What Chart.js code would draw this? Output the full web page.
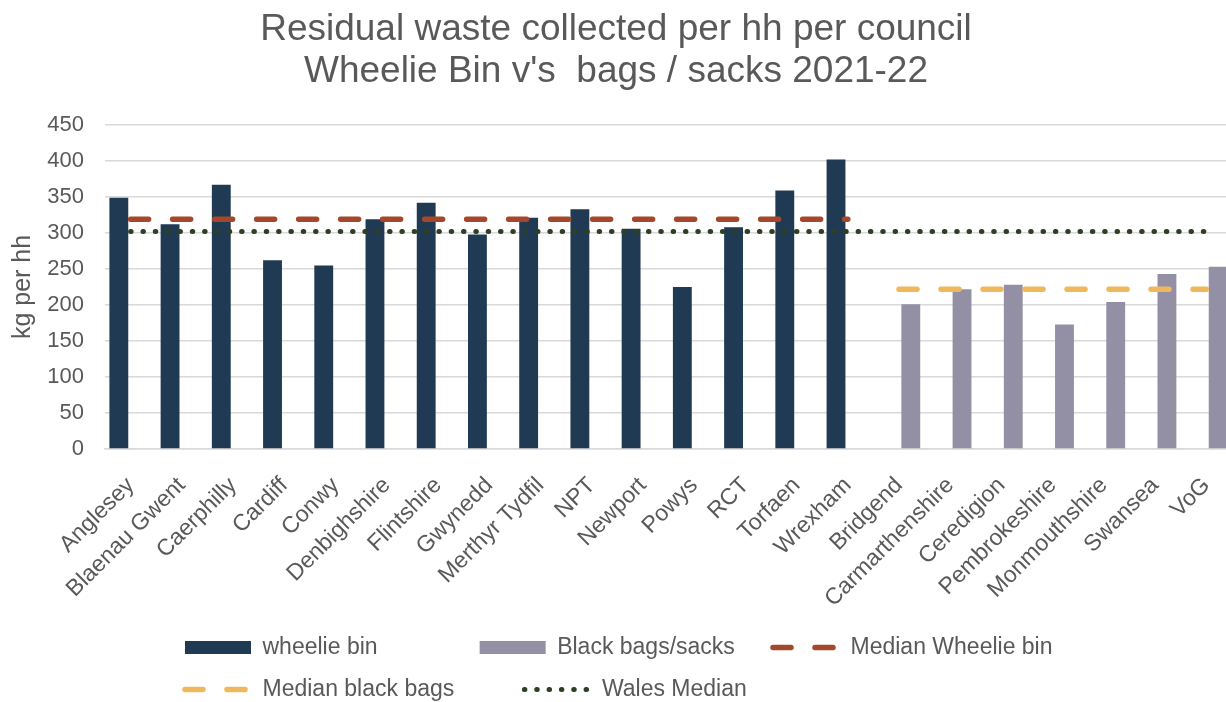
<!DOCTYPE html>
<html>
<head>
<meta charset="utf-8">
<title>Residual waste collected per hh per council</title>
<script src="https://cdn.jsdelivr.net/npm/chart.js@4.4.1/dist/chart.umd.min.js"></script>
<style>
  html, body { margin: 0; padding: 0; background: #fff; overflow: hidden; }
  canvas { display: block; }
</style>
</head>
<body>
<canvas id="chart" width="1232" height="702"></canvas>
<script>
const councils = ['Anglesey', 'Blaenau Gwent', 'Caerphilly', 'Cardiff', 'Conwy', 'Denbighshire',
  'Flintshire', 'Gwynedd', 'Merthyr Tydfil', 'NPT', 'Newport', 'Powys', 'RCT', 'Torfaen', 'Wrexham',
  'Bridgend', 'Carmarthenshire', 'Ceredigion', 'Pembrokeshire', 'Monmouthshire', 'Swansea', 'VoG'];

// kg per household
const wheelieBin = [349, 312, 367, 262, 255, 319, 342, 298, 321, 333, 306, 225, 308, 359, 402,
  null, null, null, null, null, null, null];
const blackBags = [null, null, null, null, null, null, null, null, null, null, null, null, null, null, null,
  201, 222, 228, 173, 204, 243, 253];
const medianWheelieBin = [319, 319, 319, 319, 319, 319, 319, 319, 319, 319, 319, 319, 319, 319, 319,
  null, null, null, null, null, null, null];
const medianBlackBags = [null, null, null, null, null, null, null, null, null, null, null, null, null, null, null,
  222, 222, 222, 222, 222, 222, 222];
const walesMedian = [302, 302, 302, 302, 302, 302, 302, 302, 302, 302, 302,
  302, 302, 302, 302, 302, 302, 302, 302, 302, 302, 302];

const yTicks = [0, 50, 100, 150, 200, 250, 300, 350, 400, 450];

const grey = '#595959';
Chart.defaults.font.family = "'Liberation Sans', Arial, sans-serif";
Chart.defaults.color = grey;

// trailing spaces widen legend items so they sit in Excel-like columns
const legendPad = [13, 3, 0, 8, 0];

// push the legend block to where Excel puts it
const legendPlacer = {
  id: 'legendPlacer',
  afterLayout(chart) {
    chart.legend.left = 166;
    chart.legend.top = 617;
  }
};

new Chart(document.getElementById('chart'), {
  data: {
    labels: councils,
    datasets: [
      {
        type: 'bar',
        label: 'wheelie bin',
        data: wheelieBin,
        backgroundColor: '#203A53',
        barPercentage: 0.8,
        categoryPercentage: 0.92,
        order: 1
      },
      {
        type: 'bar',
        label: 'Black bags/sacks',
        data: blackBags,
        backgroundColor: '#938FA4',
        barPercentage: 0.8,
        categoryPercentage: 0.92,
        order: 1
      },
      {
        type: 'line',
        label: 'Median Wheelie bin',
        data: medianWheelieBin,
        borderColor: '#A5472B',
        backgroundColor: '#A5472B',
        borderWidth: 5.5,
        borderDash: [18, 24],
        borderCapStyle: 'round',
        pointRadius: 0,
        order: 0
      },
      {
        type: 'line',
        label: 'Median black bags',
        data: medianBlackBags,
        borderColor: '#F0B85C',
        backgroundColor: '#F0B85C',
        borderWidth: 5.5,
        borderDash: [18, 24],
        borderCapStyle: 'round',
        pointRadius: 0,
        order: 0
      },
      {
        type: 'line',
        label: 'Wales Median',
        data: walesMedian,
        borderColor: '#2E3F24',
        backgroundColor: '#2E3F24',
        borderWidth: 5,
        borderDash: [0.5, 11.83],
        borderCapStyle: 'round',
        pointRadius: 0,
        order: 0
      }
    ]
  },
  options: {
    responsive: false,
    animation: false,
    devicePixelRatio: 1,
    layout: { padding: 0 },
    plugins: {
      title: {
        display: true,
        text: ['Residual waste collected per hh per council', "Wheelie Bin v's  bags / sacks 2021-22"],
        color: grey,
        font: { size: 37, weight: 'normal', lineHeight: 1.135 },
        padding: { top: 9, bottom: 32 }
      },
      legend: {
        position: 'bottom',
        align: 'start',
        labels: {
          color: grey,
          font: { size: 23 },
          padding: 19,
          usePointStyle: true,
          pointStyleWidth: 66,
          boxHeight: 13,
          generateLabels: (chart) => chart.data.datasets.map((ds, i) => ({
            text: ds.label + ' '.repeat(legendPad[i]),
            fillStyle: ds.backgroundColor,
            strokeStyle: ds.borderColor || ds.backgroundColor,
            lineWidth: ds.type === 'line' ? ds.borderWidth : 0,
            lineDash: ds.borderDash || [],
            lineCap: 'round',
            pointStyle: ds.type === 'line' ? 'line' : 'rect',
            fontColor: grey,
            hidden: false,
            datasetIndex: i
          }))
        }
      },
      tooltip: { enabled: false }
    },
    scales: {
      x: {
        grid: { display: false },
        border: { color: '#D9D9D9', width: 1.5 },
        ticks: {
          color: grey,
          font: { size: 23 },
          autoSkip: false,
          maxRotation: 45,
          minRotation: 45,
          padding: 15
        },
        afterFit: (scale) => {
          scale.height = 159;
          scale.paddingRight = 0; // plot runs to the canvas edge, like the cropped original
        }
      },
      y: {
        min: yTicks[0],
        max: yTicks[yTicks.length - 1],
        ticks: {
          stepSize: yTicks[1] - yTicks[0],
          color: grey,
          font: { size: 22 },
          padding: 21
        },
        grid: { color: '#D9D9D9', lineWidth: 1.5, drawTicks: false },
        border: { display: false },
        title: {
          display: true,
          text: 'kg per hh',
          color: grey,
          font: { size: 25 },
          padding: { top: 8, bottom: 0 }
        },
        afterFit: (scale) => { scale.width = 105; }
      }
    }
  },
  plugins: [legendPlacer]
});
</script>
</body>
</html>
